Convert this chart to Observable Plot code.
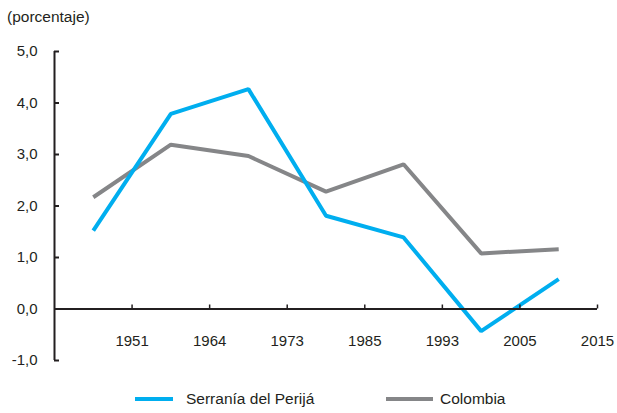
<!DOCTYPE html>
<html><head><meta charset="utf-8">
<script src="https://cdn.jsdelivr.net/npm/d3@7"></script>
<script src="https://cdn.jsdelivr.net/npm/@observablehq/plot@0.6"></script>
<style>
body{margin:0;background:#fff;font-family:"Liberation Sans",Arial,sans-serif;color:#231f20;}
#wrap{position:relative;width:617px;height:413px;overflow:hidden;}
#title{position:absolute;left:7px;top:8px;font-size:15.5px;}
.leg{position:absolute;top:390px;display:flex;align-items:center;font-size:15.5px;height:18px;}
.sw{display:inline-block;height:4px;}
#chart{position:absolute;left:0;top:0;}
</style></head>
<body>
<div id="wrap">
  <div id="chart"></div>
  <div id="title">(porcentaje)</div>
  <div id="legend"></div>
</div>
<script>
const tickLabels = ["1951","1964","1973","1985","1993","2005","2015"];
const periods = [0,1,2,3,4,5,6];
const serrania = [1.52,3.79,4.27,1.81,1.39,-0.43,0.58];
const colombia = [2.17,3.19,2.97,2.28,2.81,1.08,1.16];
const yTicks = [-1,0,1,2,3,4,5];
const seriesNames = ["Serranía del Perijá","Colombia"];
const colors = ["#00aeef","#858688"];

const W = 617, H = 413, mt = 51, mb = 53, ml = 54, mr = 20;
const yDomain = [-1, 5];
const plotH = H - mt - mb;
const zeroShift = -(0 - yDomain[0]) / (yDomain[1] - yDomain[0]) * plotH;
const ink = "#231f20";

const chart = Plot.plot({
  width: W, height: H,
  marginTop: mt, marginBottom: mb, marginLeft: ml, marginRight: mr,
  style: {fontFamily: '"Liberation Sans", Arial, sans-serif', fontSize: "15px", color: ink, background: "#fff"},
  x: {type: "linear", domain: [-0.5, 6.5], axis: null},
  y: {domain: yDomain, axis: null},
  marks: [
    Plot.lineY(colombia, {x: (d, i) => periods[i], y: d => d, stroke: colors[1], strokeWidth: 4, strokeLinejoin: "miter", strokeLinecap: "butt"}),
    Plot.lineY(serrania, {x: (d, i) => periods[i], y: d => d, stroke: colors[0], strokeWidth: 4, strokeLinejoin: "miter", strokeLinecap: "butt"}),
    Plot.ruleX([-0.5], {stroke: ink, strokeWidth: 2}),
    Plot.ruleY([0], {stroke: ink, strokeWidth: 2}),
    Plot.axisY({ticks: yTicks, tickFormat: d => d.toFixed(1).replace(".", ","), tickSize: -5, tickPadding: 22, strokeWidth: 2, stroke: ink, fill: ink, fontSize: 15}),
    Plot.axisX({anchor: "bottom", ticks: periods.map(p => p + 0.5), tickFormat: (d, i) => tickLabels[i], tickSize: -4, tickPadding: 30, dy: zeroShift, strokeWidth: 1.5, stroke: ink, fill: ink, fontSize: 15})
  ]
});
document.getElementById("chart").appendChild(chart);

const legend = document.getElementById("legend");
const legPos = [{left: 135, sw: 38, gap: 13}, {left: 386, sw: 47, gap: 7}];
seriesNames.forEach((name, i) => {
  const item = document.createElement("div");
  item.className = "leg";
  item.style.left = legPos[i].left + "px";
  const sw = document.createElement("span");
  sw.className = "sw";
  sw.style.width = legPos[i].sw + "px";
  sw.style.background = colors[i];
  sw.style.marginRight = legPos[i].gap + "px";
  const t = document.createElement("span");
  t.textContent = name;
  item.appendChild(sw); item.appendChild(t);
  legend.appendChild(item);
});
</script>
</body></html>
